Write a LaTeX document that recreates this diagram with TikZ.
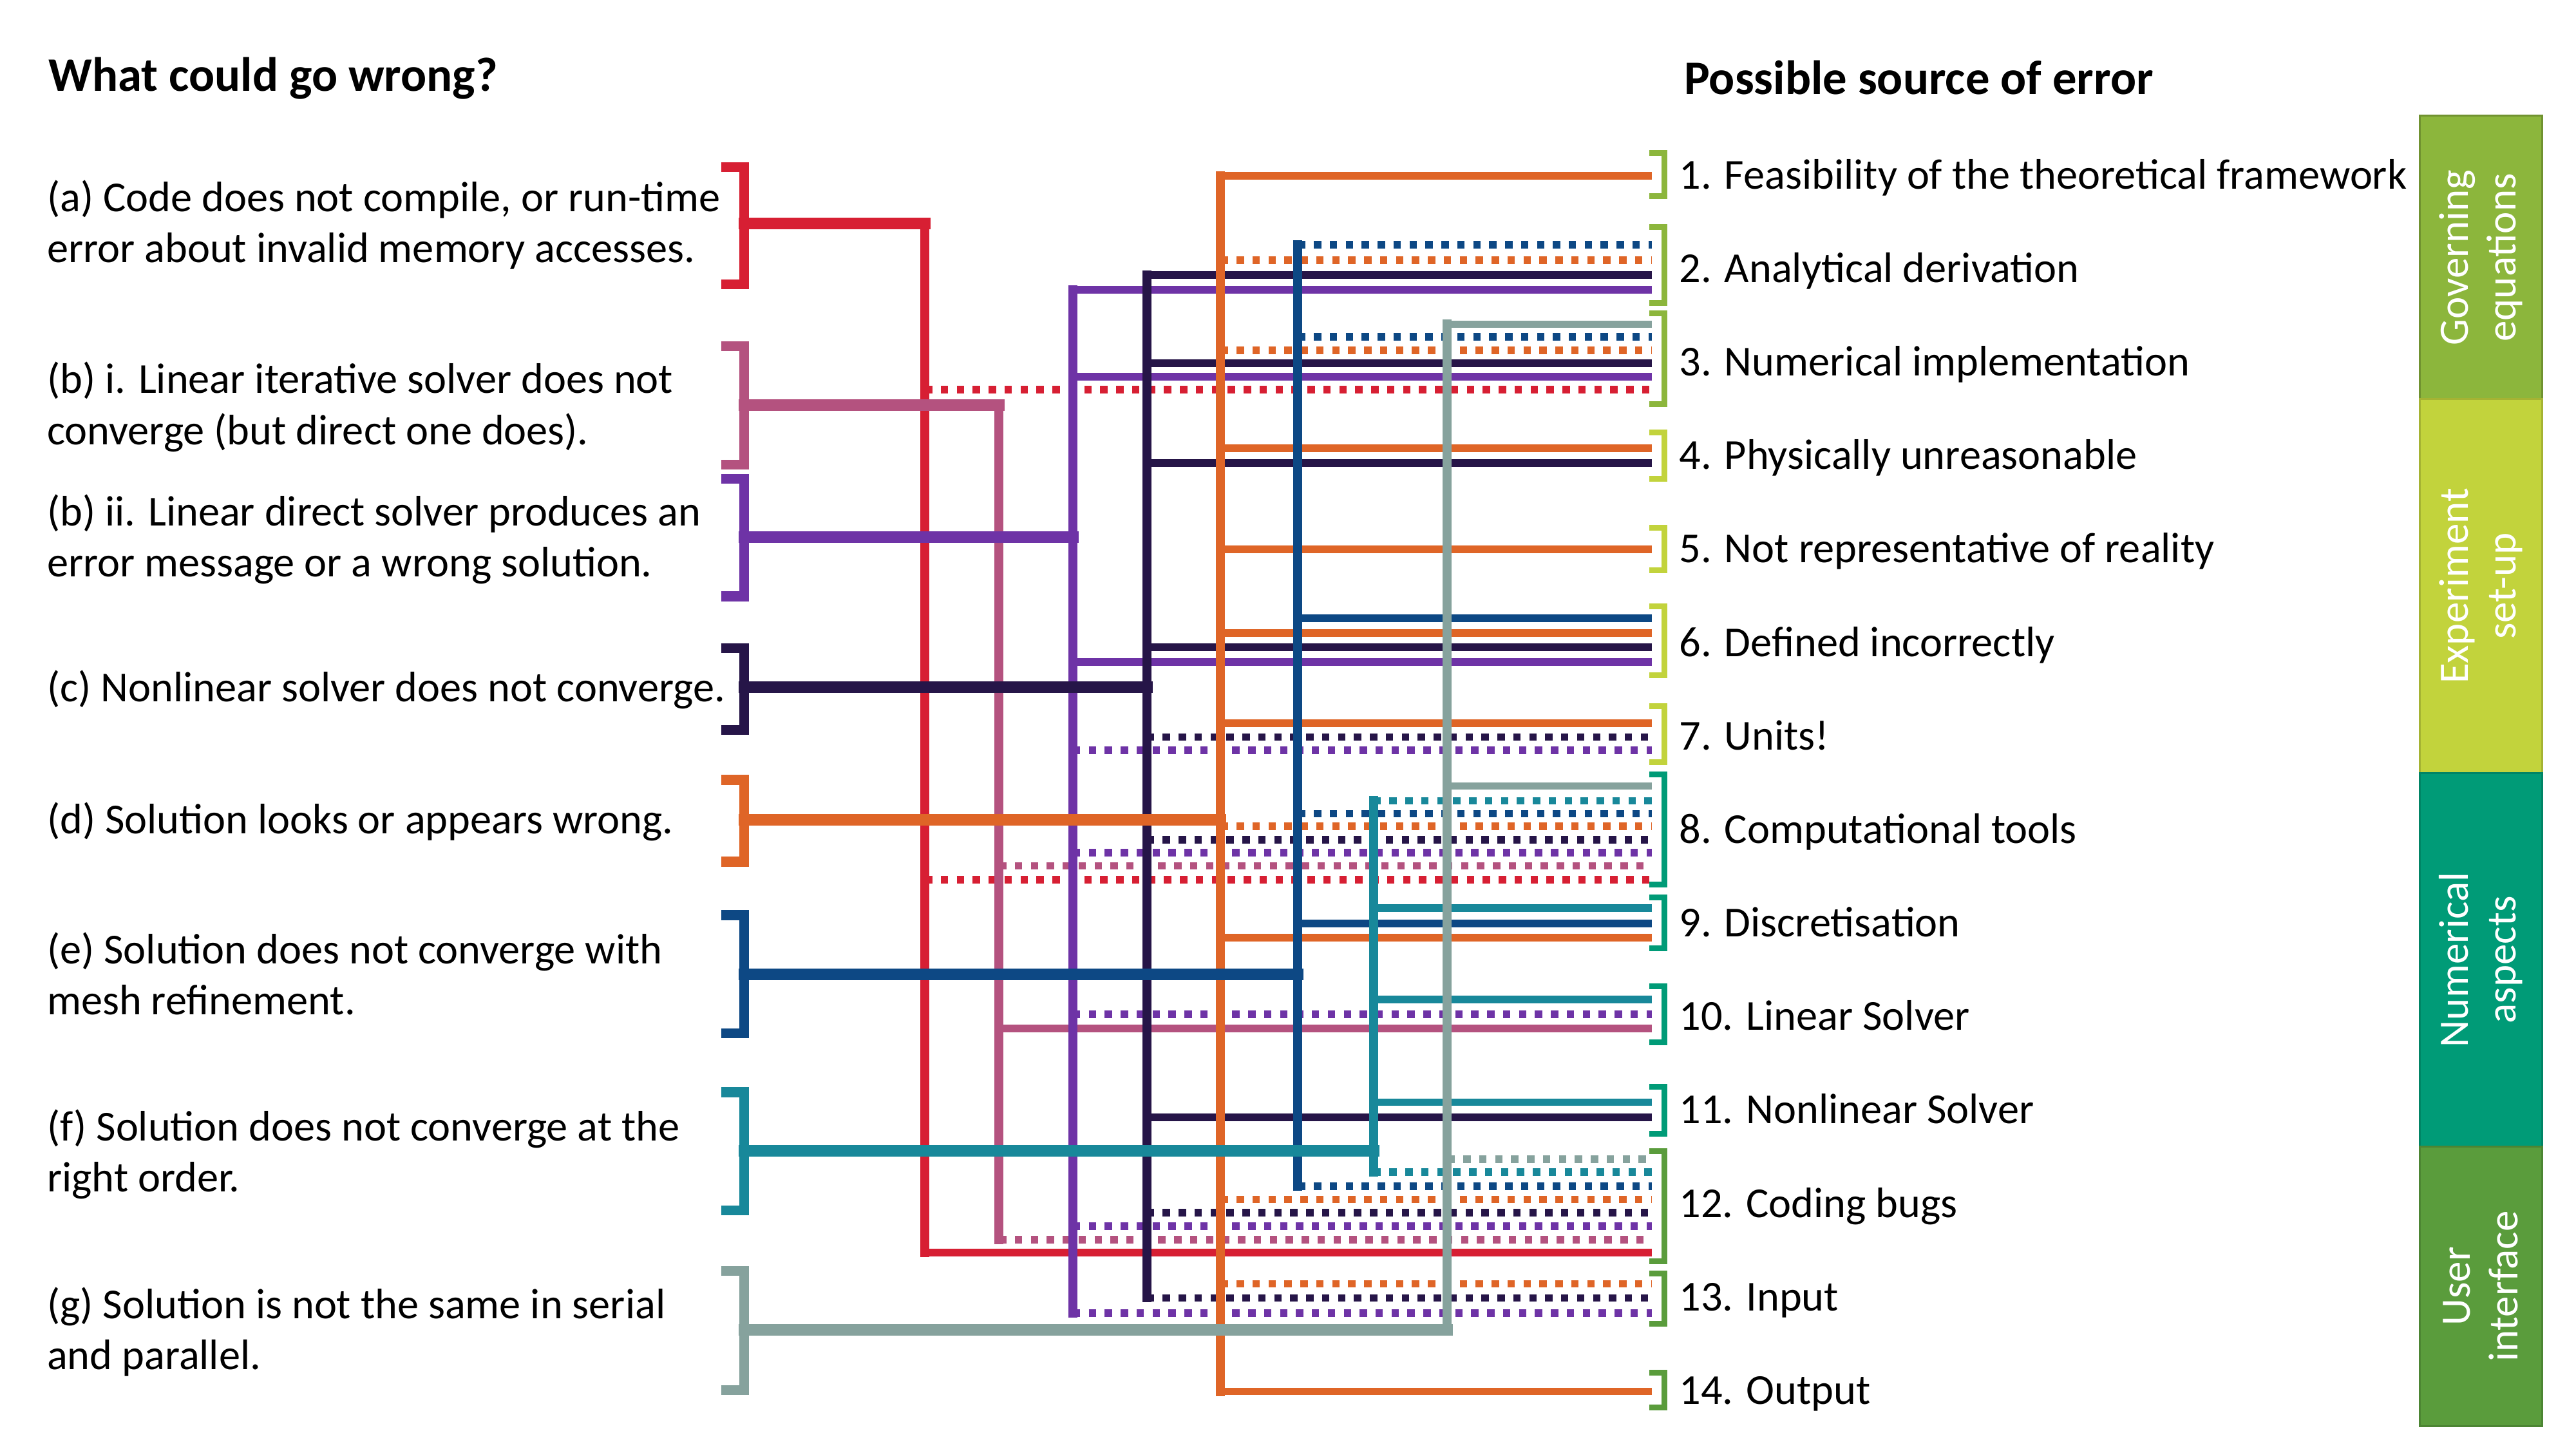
\documentclass[tikz,border=0pt]{standalone}
\usepackage{fontspec}
\setmainfont{Carlito}
\definecolor{cA}{HTML}{D71F33}
\definecolor{cBi}{HTML}{B4527F}
\definecolor{cBii}{HTML}{6E33A6}
\definecolor{cC}{HTML}{261548}
\definecolor{cD}{HTML}{DF6527}
\definecolor{cE}{HTML}{0D4884}
\definecolor{cF}{HTML}{18889A}
\definecolor{cG}{HTML}{86A29D}
\definecolor{gGov}{HTML}{8CB63C}
\definecolor{gExp}{HTML}{C2D33C}
\definecolor{gNum}{HTML}{009B77}
\definecolor{gUI}{HTML}{5A9C3C}
\newcommand\hconn[5]{\draw[#1,#2] (#3 |- 0,#4) -- (R#5 |- 0,#4);}
\newcommand\leftbrk[3]{\draw[#1,lbrack] (439,#2+3) -- (453,#2+3) -- (453,#3-3) -- (439,#3-3);}
\newcommand\rightbrk[3]{\draw[#1,rbrack] (1004,#2+1.75) -- (1013.25,#2+1.75) -- (1013.25,#3-1.75) -- (1004,#3-1.75);}
\newcommand\twoline[2]{\vtop{\hbox{#1}\hbox{#2}}}
\begin{document}
\begin{tikzpicture}[x=1pt,y=-1pt,
  solidln/.style={line width=4.5pt},
  dotln/.style={line width=4.5pt,dash pattern=on 4.5pt off 5.2pt},
  trunk/.style={line width=5.5pt,line cap=rect},
  mainln/.style={line width=7pt,line cap=rect},
  lbrack/.style={line width=6pt,line join=miter},
  rbrack/.style={line width=3.5pt,line join=miter},
  lefttxt/.style={anchor=base west,inner sep=0pt,font=\fontsize{26}{31}\selectfont},
  righttxt/.style={anchor=base west,inner sep=0pt,font=\fontsize{26}{31}\selectfont},
  header/.style={anchor=base west,inner sep=0pt,font=\fontsize{29.3}{34}\selectfont\bfseries},
  catbox/.style={rotate=90,minimum height=74.5pt,inner sep=0pt,align=center,text=white,
     line width=1.2pt,font=\fontsize{25.5}{29}\selectfont}
]
\useasboundingbox (0,0) rectangle (1568,882);

% trunk x positions
\coordinate (tA) at (563,0);
\coordinate (tBi) at (608,0);
\coordinate (tBii) at (653,0);
\coordinate (tC) at (698,0);
\coordinate (tD) at (743,0);
\coordinate (tE) at (790,0);
\coordinate (tF) at (836,0);
\coordinate (tG) at (881,0);

% right bracket anchors
\foreach \i/\y in {1/106,2/161,3/218,4/277,5/334,6/390,7/447,8/505,9/562,10/617,11/676,12/734,13/790,14/846}
  \coordinate (R\i) at (1005.5,\y);

% left bracket anchors
\coordinate (LA) at (453,136);
\coordinate (LBi) at (453,246.6);
\coordinate (LBii) at (453,327);
\coordinate (LC) at (453,418.3);
\coordinate (LD) at (453,499);
\coordinate (LE) at (453,593);
\coordinate (LF) at (453,700.5);
\coordinate (LG) at (453,809.5);

% ---------- right-hand connectors ----------
% (a) red
\hconn{cA}{dotln}{tA}{237.2}{3}
\hconn{cA}{dotln}{tA}{535.4}{8}
\hconn{cA}{solidln}{tA}{762.4}{12}
% (b) i pink
\hconn{cBi}{dotln}{tBi}{527}{8}
\hconn{cBi}{solidln}{tBi}{626}{10}
\hconn{cBi}{dotln}{tBi}{754.6}{12}
% (b) ii purple
\hconn{cBii}{solidln}{tBii}{176.4}{2}
\hconn{cBii}{solidln}{tBii}{229.4}{3}
\hconn{cBii}{solidln}{tBii}{403}{6}
\hconn{cBii}{dotln}{tBii}{456.7}{7}
\hconn{cBii}{dotln}{tBii}{519}{8}
\hconn{cBii}{dotln}{tBii}{617.4}{10}
\hconn{cBii}{dotln}{tBii}{746.4}{12}
\hconn{cBii}{dotln}{tBii}{799.2}{13}
% (c) navy
\hconn{cC}{solidln}{tC}{167.4}{2}
\hconn{cC}{solidln}{tC}{221}{3}
\hconn{cC}{solidln}{tC}{281.9}{4}
\hconn{cC}{solidln}{tC}{394}{6}
\hconn{cC}{dotln}{tC}{448.7}{7}
\hconn{cC}{dotln}{tC}{511.2}{8}
\hconn{cC}{solidln}{tC}{680.1}{11}
\hconn{cC}{dotln}{tC}{738.2}{12}
\hconn{cC}{dotln}{tC}{790}{13}
% (d) orange
\hconn{cD}{solidln}{tD}{107.1}{1}
\hconn{cD}{dotln}{tD}{158.4}{2}
\hconn{cD}{dotln}{tD}{213.3}{3}
\hconn{cD}{solidln}{tD}{272.8}{4}
\hconn{cD}{solidln}{tD}{334.3}{5}
\hconn{cD}{solidln}{tD}{385.4}{6}
\hconn{cD}{solidln}{tD}{440.3}{7}
\hconn{cD}{dotln}{tD}{503}{8}
\hconn{cD}{solidln}{tD}{570.8}{9}
\hconn{cD}{dotln}{tD}{730}{12}
\hconn{cD}{dotln}{tD}{781.4}{13}
\hconn{cD}{solidln}{tD}{847}{14}
% (e) blue
\hconn{cE}{dotln}{tE}{149}{2}
\hconn{cE}{dotln}{tE}{205}{3}
\hconn{cE}{solidln}{tE}{376.3}{6}
\hconn{cE}{dotln}{tE}{495.2}{8}
\hconn{cE}{solidln}{tE}{562.2}{9}
\hconn{cE}{dotln}{tE}{722}{12}
% (f) teal
\hconn{cF}{dotln}{tF}{487.4}{8}
\hconn{cF}{solidln}{tF}{552.7}{9}
\hconn{cF}{solidln}{tF}{608.4}{10}
\hconn{cF}{solidln}{tF}{671}{11}
\hconn{cF}{dotln}{tF}{713.5}{12}
% (g) grey
\hconn{cG}{solidln}{tG}{197.3}{3}
\hconn{cG}{solidln}{tG}{478.5}{8}
\hconn{cG}{dotln}{tG}{705.6}{12}

% ---------- trunks ----------
\draw[cA,trunk] (tA |- 0,136) -- (tA |- 0,762.4);
\draw[cBi,trunk] (tBi |- 0,246.6) -- (tBi |- 0,754.6);
\draw[cBii,trunk] (tBii |- 0,176.4) -- (tBii |- 0,799.2);
\draw[cC,trunk] (tC |- 0,167.4) -- (tC |- 0,790);
\draw[cD,trunk] (tD |- 0,107.1) -- (tD |- 0,847);
\draw[cE,trunk] (tE |- 0,149) -- (tE |- 0,722);
\draw[cF,trunk] (tF |- 0,487.4) -- (tF |- 0,713.5);
\draw[cG,trunk] (tG |- 0,197.3) -- (tG |- 0,809.5);

% ---------- main connectors from the left ----------
\draw[cA,mainln] (LA) -- (tA |- LA);
\draw[cBi,mainln] (LBi) -- (tBi |- LBi);
\draw[cBii,mainln] (LBii) -- (tBii |- LBii);
\draw[cC,mainln] (LC) -- (tC |- LC);
\draw[cD,mainln] (LD) -- (tD |- LD);
\draw[cE,mainln] (LE) -- (tE |- LE);
\draw[cF,mainln] (LF) -- (tF |- LF);
\draw[cG,mainln] (LG) -- (tG |- LG);

% ---------- left brackets ----------
\leftbrk{cA}{98.7}{176}
\leftbrk{cBi}{207.8}{285.8}
\leftbrk{cBii}{288.5}{366}
\leftbrk{cC}{391.6}{447.2}
\leftbrk{cD}{471.7}{527.5}
\leftbrk{cE}{554}{632}
\leftbrk{cF}{661.8}{739.7}
\leftbrk{cG}{770.7}{849}

% ---------- right brackets ----------
\rightbrk{gGov}{91.4}{121.2}
\rightbrk{gGov}{136.5}{186.2}
\rightbrk{gGov}{188.8}{247.6}
\rightbrk{gExp}{261.4}{293.3}
\rightbrk{gExp}{319.5}{349}
\rightbrk{gExp}{367.4}{412.9}
\rightbrk{gExp}{428}{465.8}
\rightbrk{gNum}{469.7}{540.2}
\rightbrk{gNum}{544.5}{579}
\rightbrk{gNum}{598.6}{636.3}
\rightbrk{gNum}{659.8}{691.8}
\rightbrk{gUI}{699}{769.6}
\rightbrk{gUI}{773.5}{807.5}
\rightbrk{gUI}{833.8}{858.5}

% ---------- headers ----------
\node[header] (hL) at (29.5,55.6) {What could go wrong?};
\node[header] (hR) at (1025,57.6) {Possible source of error};

% ---------- left texts ----------
\node[lefttxt] (A) at (28.5,128.6) {\twoline{(a) Code does not compile, or run-time}{error about invalid memory accesses.}};
\node[lefttxt] (Bi) at (28.5,239.5) {\twoline{(b) i. Linear iterative solver does not}{converge (but direct one does).}};
\node[lefttxt] (Bii) at (28.5,320) {\twoline{(b) ii. Linear direct solver produces an}{error message or a wrong solution.}};
\node[lefttxt] (C) at (28.5,427) {(c) Nonlinear solver does not converge.};
\node[lefttxt] (D) at (28.5,507.5) {(d) Solution looks or appears wrong.};
\node[lefttxt] (E) at (28.5,586.5) {\twoline{(e) Solution does not converge with}{mesh refinement.}};
\node[lefttxt] (F) at (28.5,694.5) {\twoline{(f) Solution does not converge at the}{right order.}};
\node[lefttxt] (G) at (28.5,802.5) {\twoline{(g) Solution is not the same in serial}{and parallel.}};

% ---------- right texts ----------
\node[righttxt] (T1) at (1022,115) {1. Feasibility of the theoretical framework};
\node[righttxt] (T2) at (1022,171.9) {2. Analytical derivation};
\node[righttxt] (T3) at (1022,228.8) {3. Numerical implementation};
\node[righttxt] (T4) at (1022,285.7) {4. Physically unreasonable};
\node[righttxt] (T5) at (1022,342.6) {5. Not representative of reality};
\node[righttxt] (T6) at (1022,399.5) {6. Defined incorrectly};
\node[righttxt] (T7) at (1022,456.4) {7. Units!};
\node[righttxt] (T8) at (1022,513.3) {8. Computational tools};
\node[righttxt] (T9) at (1022,570.2) {9. Discretisation};
\node[righttxt] (T10) at (1022,627.1) {10. Linear Solver};
\node[righttxt] (T11) at (1022,684) {11. Nonlinear Solver};
\node[righttxt] (T12) at (1022,740.9) {12. Coding bugs};
\node[righttxt] (T13) at (1022,797.8) {13. Input};
\node[righttxt] (T14) at (1022,854.7) {14. Output};

% ---------- category boxes ----------
\node[catbox,fill=gGov,draw=gGov!80!black,minimum width=172.5pt] (K1) at (1510,156.75) {Governing\\equations};
\node[catbox,fill=gExp,draw=gExp!85!black,minimum width=227.5pt] (K2) at (1510,356.75) {Experiment\\set-up};
\node[catbox,fill=gNum,draw=gNum!85!black,minimum width=227.5pt] (K3) at (1510,584.25) {Numerical\\aspects};
\node[catbox,fill=gUI,draw=gUI!85!black,minimum width=170pt] (K4) at (1510,783) {User\\interface};
\end{tikzpicture}
\end{document}
